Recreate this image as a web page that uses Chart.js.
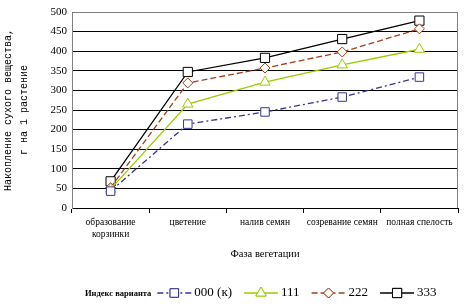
<!DOCTYPE html>
<html><head><meta charset="utf-8">
<script src="https://cdn.jsdelivr.net/npm/chart.js@4"></script>
<style>html,body{margin:0;padding:0;background:#fff}canvas{display:block}</style>
</head><body>
<canvas id="c" width="473" height="306"></canvas>
<script>
const categories = [['образование','корзинки'], 'цветение', 'налив семян', 'созревание семян', 'полная спелость'];
const seriesNames = ['000 (к)', '111', '222', '333'];
const s000 = [43, 214, 245, 283, 334];
const s111 = [48, 265, 321, 365, 405];
const s222 = [52, 319, 357, 398, 457];
const s333 = [68, 347, 383, 431, 478];
const yTicks = [0, 50, 100, 150, 200, 250, 300, 350, 400, 450, 500];
const yTitle = ['Накопление сухого вещества,', 'г на 1 растение'];
const xTitle = 'Фаза вегетации';
const legendTitle = 'Индекс варианта';

const styles = [
  {color:'#333399', dash:[6,3,2,3], point:'rect', r:6},
  {color:'#99CC00', dash:[], point:'triangle', r:6},
  {color:'#A0401A', dash:[6,3], point:'rectRot', r:5},
  {color:'#000000', dash:[], point:'rect', r:6.5}
];
const values = [s000, s111, s222, s333];

const datasets = values.map((v, i) => ({
  label: seriesNames[i],
  data: v,
  borderColor: styles[i].color,
  borderWidth: 1.3,
  borderDash: styles[i].dash,
  pointStyle: styles[i].point,
  pointRadius: styles[i].r,
  pointBorderColor: styles[i].color,
  pointBackgroundColor: '#ffffff',
  pointBorderWidth: 1,
  tension: 0,
  fill: false
}));

const serif = 'Liberation Serif, Times New Roman, serif';

const legendPlugin = {
  id: 'customLegend',
  afterDraw(chart) {
    const ctx = chart.ctx;
    const y = 293;
    let x = 85;
    ctx.save();
    ctx.textBaseline = 'middle';
    ctx.fillStyle = '#000';
    ctx.font = 'bold 8.5px ' + serif;
    ctx.fillText(legendTitle, x, y + 1);
    x += ctx.measureText(legendTitle).width + 6;
    ctx.font = '13px ' + serif;
    seriesNames.forEach((name, i) => {
      const st = styles[i];
      const lw = 34;
      ctx.save();
      ctx.strokeStyle = st.color;
      ctx.lineWidth = 1.3;
      ctx.setLineDash(st.dash);
      ctx.beginPath();
      ctx.moveTo(x, y); ctx.lineTo(x + lw, y);
      ctx.stroke();
      ctx.setLineDash([]);
      ctx.fillStyle = '#fff';
      ctx.lineWidth = 1;
      Chart.helpers.drawPoint(ctx, {pointStyle: st.point, radius: st.r, borderWidth: 1}, x + lw / 2, y);
      ctx.fill();
      ctx.stroke();
      ctx.restore();
      x += lw + 3;
      ctx.fillStyle = '#000';
      ctx.fillText(name, x, y);
      x += ctx.measureText(name).width + 12;
    });
    ctx.restore();
  }
};

const framePlugin = {
  id: 'frame',
  beforeDatasetsDraw(chart) {
    const {ctx, chartArea: a} = chart;
    ctx.save();
    ctx.strokeStyle = '#808080';
    ctx.lineWidth = 1;
    ctx.beginPath();
    ctx.moveTo(a.left + 0.5, a.top + 0.5);
    ctx.lineTo(a.right - 0.5, a.top + 0.5);
    ctx.lineTo(a.right - 0.5, a.bottom);
    ctx.stroke();
    ctx.restore();
  }
};

new Chart(document.getElementById('c'), {
  type: 'line',
  data: { labels: categories, datasets },
  plugins: [legendPlugin, framePlugin],
  options: {
    responsive: false,
    animation: false,
    devicePixelRatio: 1,
    layout: { padding: { left: 0, right: 15, top: 12, bottom: 41 } },
    plugins: { legend: { display: false }, tooltip: { enabled: false } },
    scales: {
      x: {
        type: 'category',
        offset: true,
        grid: { display: true, drawOnChartArea: false, drawTicks: true, tickLength: 5, color: '#000', offset: true },
        border: { color: '#000', width: 1 },
        ticks: { font: { family: serif, size: 9.5 }, color: '#000', padding: 4, maxRotation: 0, autoSkip: false },
        title: { display: true, text: xTitle, font: { family: serif, size: 10.5 }, color: '#000', padding: { top: 2, bottom: 4 } },
        afterFit(scale) { scale.height = 57; }
      },
      y: {
        min: 0, max: 500,
        afterBuildTicks(scale) { scale.ticks = yTicks.map(v => ({ value: v })); },
        grid: { color: ctx => (ctx.tick && ctx.tick.value === 500) ? '#808080' : '#000', drawTicks: false, lineWidth: 1 },
        border: { color: '#808080', width: 1 },
        ticks: { font: { family: serif, size: 11 }, color: '#000', padding: 5 },
        title: { display: true, text: yTitle, font: { family: 'Liberation Mono, monospace', size: 10, lineHeight: 1.65 }, color: '#000', padding: { top: 0, bottom: 0 } },
        afterFit(scale) { scale.width = 72; }
      }
    }
  }
});
</script>
</body></html>
